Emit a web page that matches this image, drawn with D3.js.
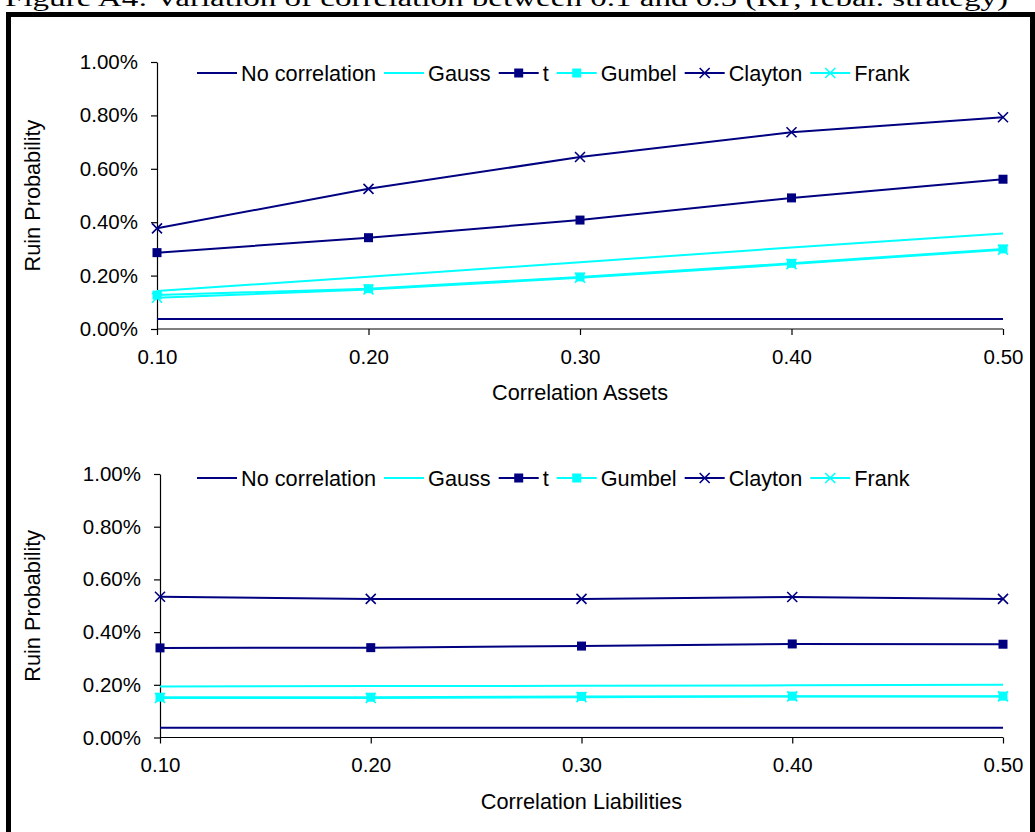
<!DOCTYPE html>
<html><head><meta charset="utf-8">
<script src="https://cdn.jsdelivr.net/npm/d3@7"></script>
<style>body{margin:0;background:#fff}svg{display:block}text{font-family:Arial,"Liberation Sans",sans-serif}</style>
</head><body>
<svg id="chart" width="1035" height="832"></svg>
<script>
const titleText = "Figure A4: Variation of correlation between 0.1 and 0.5 (RP, rebal. strategy)";
const categories = [0.10, 0.20, 0.30, 0.40, 0.50];
const seriesNames = ["No correlation", "Gauss", "t", "Gumbel", "Clayton", "Frank"];
const yTicks = [0, 0.002, 0.004, 0.006, 0.008, 0.010];
// values in percent
const assetsNoCorr  = [0.037, 0.037, 0.037, 0.037, 0.037];
const assetsGauss   = [0.142, 0.196, 0.250, 0.305, 0.358];
const assetsT       = [0.286, 0.342, 0.408, 0.491, 0.561];
const assetsGumbel  = [0.127, 0.151, 0.195, 0.246, 0.300];
const assetsClayton = [0.377, 0.525, 0.644, 0.737, 0.793];
const assetsFrank   = [0.117, 0.148, 0.192, 0.243, 0.297];
const liabNoCorr  = [0.037, 0.037, 0.037, 0.037, 0.037];
const liabGauss   = [0.194, 0.195, 0.196, 0.198, 0.200];
const liabT       = [0.340, 0.341, 0.347, 0.355, 0.354];
const liabGumbel  = [0.153, 0.153, 0.156, 0.157, 0.157];
const liabClayton = [0.534, 0.526, 0.526, 0.533, 0.526];
const liabFrank   = [0.150, 0.150, 0.153, 0.156, 0.156];

const styles = {
  "No correlation": {color: "#000080", marker: null},
  "Gauss": {color: "#00FFFF", marker: null},
  "t": {color: "#000080", marker: "square"},
  "Gumbel": {color: "#00FFFF", marker: "square"},
  "Clayton": {color: "#000080", marker: "x"},
  "Frank": {color: "#00FFFF", marker: "x"}
};
const labelSize = 21.7, tickSize = 20.5;

const svg = d3.select("#chart");
svg.append("text").attr("x", 5).attr("y", 6)
  .style("font-family", "'Liberation Serif','Times New Roman',serif")
  .attr("font-size", 24).attr("textLength", 1003).attr("lengthAdjust", "spacingAndGlyphs")
  .text(titleText);
svg.append("rect").attr("x", 8.5).attr("y", 14.5).attr("width", 1024).attr("height", 840)
  .attr("fill", "none").attr("stroke", "#000").attr("stroke-width", 5);

function drawMarker(g, type, x, y, color) {
  if (type === "square") {
    g.append("rect").attr("x", x - 4.5).attr("y", y - 4.5).attr("width", 9).attr("height", 9).attr("fill", color);
  } else if (type === "x") {
    const s = 5;
    g.append("path").attr("d", `M${x-s},${y-s}L${x+s},${y+s}M${x-s},${y+s}L${x+s},${y-s}`)
      .attr("stroke", color).attr("stroke-width", 1.6).attr("fill", "none");
  }
}

function drawChart(cfg) {
  const g = svg.append("g");
  const x = d3.scalePoint().domain(categories).range([cfg.x0, cfg.x1]);
  const y = d3.scaleLinear().domain([0, 0.01]).range([cfg.y0, cfg.y1]);
  const fmtY = d3.format(".2%"), fmtX = d3.format(".2f");
  const ya = g.append("g").attr("transform", `translate(${cfg.x0},0)`)
    .call(d3.axisLeft(y).tickValues(yTicks).tickFormat(fmtY).tickSize(6).tickSizeOuter(0).tickPadding(13));
  ya.selectAll("text").attr("font-size", tickSize).attr("fill", "#000").style("font-family", "Arial,'Liberation Sans',sans-serif");
  ya.selectAll("line,path").attr("stroke", "#000").attr("stroke-width", 1.2);
  const xa = g.append("g").attr("transform", `translate(0,${cfg.y0})`)
    .call(d3.axisBottom(x).tickFormat(fmtX).tickSize(6).tickSizeOuter(0).tickPadding(14));
  xa.select(".domain").attr("d", `M${cfg.x0},0H${cfg.x1}`);
  xa.selectAll("text").attr("font-size", tickSize).attr("fill", "#000").style("font-family", "Arial,'Liberation Sans',sans-serif");
  xa.selectAll("line,path").attr("stroke", "#000").attr("stroke-width", 1.2);
  g.append("text").attr("x", (cfg.x0 + cfg.x1) / 2).attr("y", cfg.y0 + 71).attr("text-anchor", "middle")
    .attr("font-size", labelSize).text(cfg.xTitle);
  g.append("text").attr("transform", `translate(40,${(cfg.y0 + cfg.y1) / 2}) rotate(-90)`).attr("text-anchor", "middle")
    .attr("font-size", labelSize).text("Ruin Probability");
  const line = d3.line().x((d, i) => x(categories[i])).y(d => y(d / 100));
  cfg.series.forEach((vals, si) => {
    const st = styles[seriesNames[si]];
    g.append("path").datum(vals).attr("d", line).attr("fill", "none")
      .attr("stroke", st.color).attr("stroke-width", 2);
    if (st.marker) vals.forEach((v, i) => drawMarker(g, st.marker, x(categories[i]), y(v / 100), st.color));
  });
  let lx = cfg.legendX;
  const ly = cfg.legendY;
  seriesNames.forEach(name => {
    const st = styles[name];
    g.append("line").attr("x1", lx).attr("x2", lx + 40).attr("y1", ly).attr("y2", ly)
      .attr("stroke", st.color).attr("stroke-width", 2);
    if (st.marker) drawMarker(g, st.marker, lx + 20, ly, st.color);
    const t = g.append("text").attr("x", lx + 44).attr("y", ly + 7.5).attr("font-size", labelSize).text(name);
    lx = lx + 44 + t.node().getComputedTextLength() + 8;
  });
}

drawChart({x0: 157, x1: 1003, y0: 329, y1: 62, xTitle: "Correlation Assets", legendX: 197, legendY: 73,
  series: [assetsNoCorr, assetsGauss, assetsT, assetsGumbel, assetsClayton, assetsFrank]});
drawChart({x0: 160, x1: 1003, y0: 737.5, y1: 474, xTitle: "Correlation Liabilities", legendX: 197, legendY: 478,
  series: [liabNoCorr, liabGauss, liabT, liabGumbel, liabClayton, liabFrank]});
</script>
</body></html>
